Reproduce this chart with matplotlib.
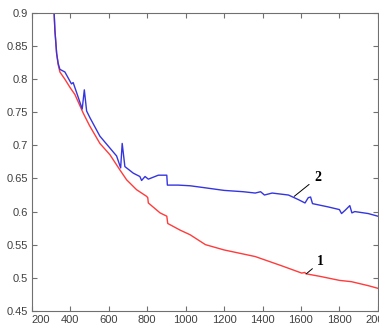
import matplotlib
matplotlib.use("Agg")
import matplotlib.pyplot as plt

# curve 1 (red)
x1 = [316, 320, 329, 337, 346, 372, 400, 424, 467, 500, 554, 606, 658, 693, 745,
      797, 803, 806, 867, 902, 907, 971, 1023, 1103, 1200, 1362, 1500, 1604, 1620,
      1625, 1700, 1800, 1863, 1950, 2000]
y1 = [0.9, 0.874, 0.839, 0.822, 0.811, 0.800, 0.787, 0.777, 0.749, 0.730, 0.703,
      0.686, 0.663, 0.648, 0.633, 0.623, 0.621, 0.613, 0.598, 0.593, 0.582, 0.572,
      0.565, 0.550, 0.542, 0.532, 0.518, 0.507, 0.508, 0.506, 0.502, 0.496, 0.494,
      0.488, 0.484]

# curve 2 (blue)
x2 = [316, 320, 329, 337, 346, 372, 406, 415, 441, 462, 473, 485, 502, 554, 641,
      662, 670, 684, 728, 762, 771, 789, 806, 858, 902, 905, 962, 1023, 1100, 1200,
      1300, 1362, 1390, 1410, 1450, 1535, 1587, 1621, 1638, 1650, 1660, 1742, 1800,
      1811, 1830, 1854, 1865, 1880, 1950, 2000]
y2 = [0.9, 0.874, 0.839, 0.824, 0.815, 0.811, 0.793, 0.795, 0.773, 0.755, 0.784,
      0.752, 0.742, 0.714, 0.684, 0.666, 0.703, 0.668, 0.658, 0.653, 0.647, 0.653,
      0.649, 0.655, 0.655, 0.640, 0.640, 0.639, 0.636, 0.632, 0.630, 0.628, 0.630,
      0.625, 0.628, 0.625, 0.618, 0.613, 0.621, 0.622, 0.612, 0.607, 0.603, 0.597,
      0.602, 0.609, 0.598, 0.600, 0.597, 0.593]

xticks = [200, 400, 600, 800, 1000, 1200, 1400, 1600, 1800, 2000]
yticks = [0.45, 0.5, 0.55, 0.6, 0.65, 0.7, 0.75, 0.8, 0.85, 0.9]

fig = plt.figure(figsize=(3.79, 3.36), dpi=100)
ax = fig.add_axes([0.084, 0.075, 0.913, 0.886])

ax.plot(x1, y1, color="#ff3b3b", lw=1.0)
ax.plot(x2, y2, color="#3535e0", lw=1.0)

ax.set_xlim(200, 2000)
ax.set_ylim(0.45, 0.9)
ax.set_xticks(xticks)
ax.set_xticklabels([str(t) for t in xticks])
ax.set_yticks(yticks)
ax.set_yticklabels([f"{t:g}" for t in yticks])

grey = "#707070"
for s in ax.spines.values():
    s.set_color(grey)
ax.tick_params(direction="in", top=True, right=True, length=3.5, color=grey,
               labelsize=8, labelcolor="#404040", pad=3)
for lab in ax.get_xticklabels() + ax.get_yticklabels():
    lab.set_family("Liberation Sans")
ax.get_xticklabels()[0].set_horizontalalignment("left")

# curve labels with leader lines
ax.annotate("2", xy=(1565, 0.623), xytext=(1668, 0.646),
            fontsize=10, fontweight="bold", family="Liberation Serif",
            arrowprops=dict(arrowstyle="-", color="black", lw=0.7,
                            shrinkA=2, shrinkB=0))
ax.annotate("1", xy=(1628, 0.506), xytext=(1685, 0.519),
            fontsize=10, fontweight="bold", family="Liberation Serif",
            arrowprops=dict(arrowstyle="-", color="black", lw=0.7,
                            shrinkA=2, shrinkB=0))

fig.savefig("out.png", dpi=100)
